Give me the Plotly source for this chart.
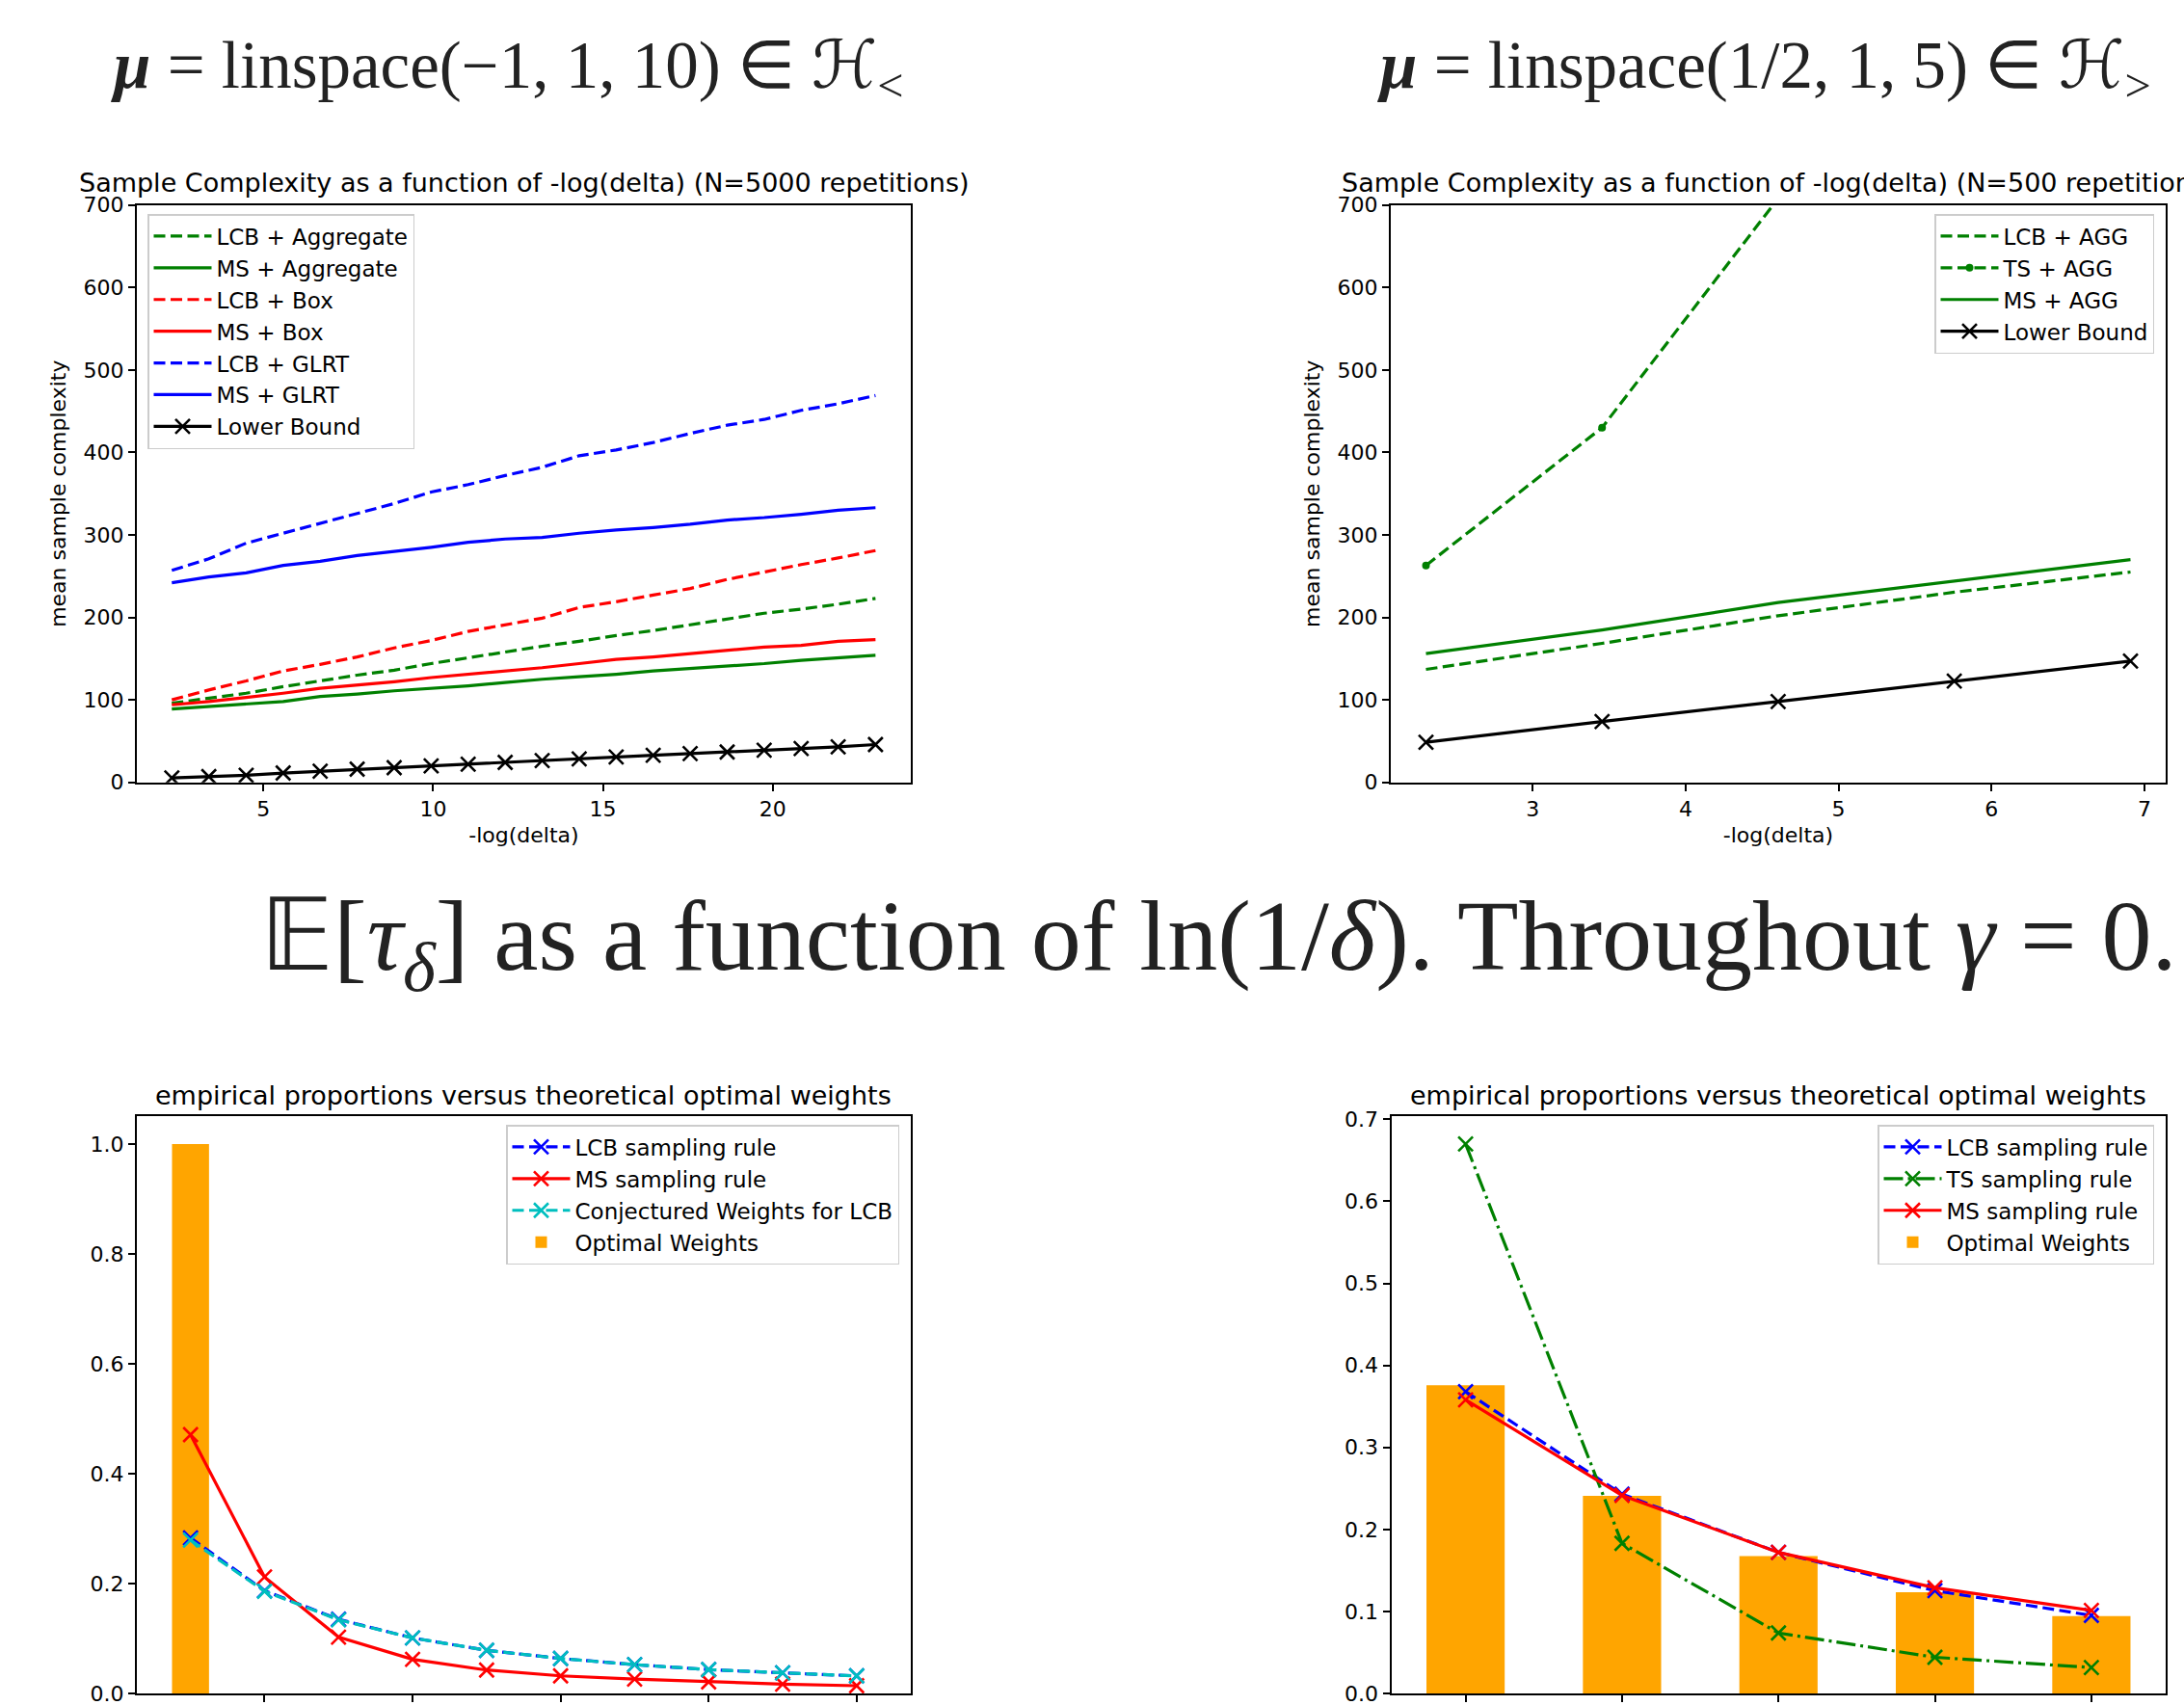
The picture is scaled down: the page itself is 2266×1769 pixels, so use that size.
import plotly.graph_objects as go

W, H = 2266, 1769

# ---------------- data ----------------
# top-left: mu = linspace(-1,1,10)
tl_x = [2.30, 3.39, 4.49, 5.58, 6.67, 7.76, 8.85, 9.94, 11.03, 12.12,
        13.21, 14.30, 15.39, 16.48, 17.57, 18.66, 19.75, 20.84, 21.93, 23.03]
tl_lcb_agg = [96, 102, 108, 116, 123, 130, 136, 144, 151, 158,
              165, 171, 178, 184, 191, 198, 205, 210, 216, 223]
tl_ms_agg = [89, 92, 95, 98, 104, 107, 111, 114, 117, 121,
             125, 128, 131, 135, 138, 141, 144, 148, 151, 154]
tl_lcb_box = [100, 112, 123, 135, 143, 152, 163, 172, 183, 191,
              199, 212, 219, 227, 235, 246, 255, 264, 272, 281]
tl_ms_box = [94, 98, 103, 108, 114, 118, 122, 127, 131, 135,
             139, 144, 149, 152, 156, 160, 164, 166, 171, 173]
tl_lcb_glrt = [257, 271, 290, 302, 314, 326, 338, 352, 361, 372,
               382, 396, 403, 412, 423, 433, 440, 451, 459, 469]
tl_ms_glrt = [242, 249, 254, 263, 268, 275, 280, 285, 291, 295,
              297, 302, 306, 309, 313, 318, 321, 325, 330, 333]
tl_lower = [5.4, 7.0, 8.6, 11.3, 13.5, 16.0, 17.8, 19.9, 22.0, 24.2,
            26.4, 28.5, 30.7, 32.8, 34.8, 36.8, 38.9, 41.0, 43.1, 45.8]

# top-right: mu = linspace(1/2,1,5)
tr_x = [2.303, 3.454, 4.605, 5.756, 6.908]
tr_lcb_agg = [137, 168.5, 202, 230.5, 255]
tr_ts_agg = [263, 430, 708, 1000, 1300]
tr_ms_agg = [156, 184.7, 218, 244, 270]
tr_lower = [48.5, 73.8, 98, 122.8, 147]

# bottom-left: proportions, 10 arms
bl_arms = [1, 2, 3, 4, 5, 6, 7, 8, 9, 10]
bl_lcb = [0.283, 0.187, 0.135, 0.101, 0.0785, 0.0636, 0.0524, 0.0434, 0.0374, 0.032]
bl_ms = [0.471, 0.212, 0.1025, 0.062, 0.0426, 0.032, 0.026, 0.021, 0.017, 0.014]
bl_conj = [0.279, 0.186, 0.134, 0.101, 0.0785, 0.0636, 0.0524, 0.0434, 0.0374, 0.032]
bl_opt = [1.0, 0, 0, 0, 0, 0, 0, 0, 0, 0]

# bottom-right: proportions, 5 arms
br_arms = [1, 2, 3, 4, 5]
br_lcb = [0.368, 0.243, 0.172, 0.1253, 0.0952]
br_ts = [0.67, 0.183, 0.0737, 0.0441, 0.0316]
br_ms = [0.358, 0.2415, 0.172, 0.1288, 0.1012]
br_opt = [0.3758, 0.241, 0.1674, 0.1233, 0.0942]

# ---------------- styling ----------------
GREEN, RED, BLUE, CYAN, BLACK, ORANGE = "#008000", "#FF0000", "#0000FF", "#00BFBF", "#000000", "#FFA500"
LW = 3.2
DASH = "12px,5.5px"
DASHDOT = "20px,5px,3px,5px"
FONT = "DejaVu Sans"


def px_x(p):
    return p / W


def px_y(p):
    return 1 - p / H


def xmark(c):
    return dict(symbol="x-thin", size=15, color=c, line=dict(width=2.6, color=c))


fig = go.Figure()


def line(x, y, name, color, dash, ax, leg, marker=None, mode="lines"):
    fig.add_trace(go.Scatter(
        x=x, y=y, name=name, mode=mode,
        line=dict(color=color, width=LW, dash=dash),
        marker=marker, xaxis=ax[0], yaxis=ax[1], legend=leg, cliponaxis=True))


TL = ("x", "y")
TR = ("x2", "y2")
BL = ("x3", "y3")
BR = ("x4", "y4")

line(tl_x, tl_lcb_agg, "LCB + Aggregate", GREEN, DASH, TL, "legend")
line(tl_x, tl_ms_agg, "MS + Aggregate", GREEN, "solid", TL, "legend")
line(tl_x, tl_lcb_box, "LCB + Box", RED, DASH, TL, "legend")
line(tl_x, tl_ms_box, "MS + Box", RED, "solid", TL, "legend")
line(tl_x, tl_lcb_glrt, "LCB + GLRT", BLUE, DASH, TL, "legend")
line(tl_x, tl_ms_glrt, "MS + GLRT", BLUE, "solid", TL, "legend")
line(tl_x, tl_lower, "Lower Bound", BLACK, "solid", TL, "legend", xmark(BLACK), "lines+markers")

line(tr_x, tr_lcb_agg, "LCB + AGG", GREEN, DASH, TR, "legend2")
line(tr_x, tr_ts_agg, "TS + AGG", GREEN, DASH, TR, "legend2",
     dict(symbol="circle", size=8, color=GREEN), "lines+markers")
line(tr_x, tr_ms_agg, "MS + AGG", GREEN, "solid", TR, "legend2")
line(tr_x, tr_lower, "Lower Bound", BLACK, "solid", TR, "legend2", xmark(BLACK), "lines+markers")

line(bl_arms, bl_lcb, "LCB sampling rule", BLUE, DASH, BL, "legend3", xmark(BLUE), "lines+markers")
line(bl_arms, bl_ms, "MS sampling rule", RED, "solid", BL, "legend3", xmark(RED), "lines+markers")
line(bl_arms, bl_conj, "Conjectured Weights for LCB", CYAN, DASH, BL, "legend3", xmark(CYAN), "lines+markers")
fig.add_trace(go.Bar(x=bl_arms, y=bl_opt, width=0.5, name="Optimal Weights",
                     marker=dict(color=ORANGE, line=dict(width=0)),
                     xaxis="x3", yaxis="y3", legend="legend3"))

line(br_arms, br_lcb, "LCB sampling rule", BLUE, DASH, BR, "legend4", xmark(BLUE), "lines+markers")
line(br_arms, br_ts, "TS sampling rule", GREEN, DASHDOT, BR, "legend4", xmark(GREEN), "lines+markers")
line(br_arms, br_ms, "MS sampling rule", RED, "solid", BR, "legend4", xmark(RED), "lines+markers")
fig.add_trace(go.Bar(x=br_arms, y=br_opt, width=0.5, name="Optimal Weights",
                     marker=dict(color=ORANGE, line=dict(width=0)),
                     xaxis="x4", yaxis="y4", legend="legend4"))

# ---------------- axes ----------------
TOP_Y = [px_y(811.7), px_y(212.7)]
BOT_Y = [px_y(1757), px_y(1158.4)]

common = dict(showline=True, mirror=True, linecolor="black", linewidth=2,
              ticks="outside", ticklen=7, tickwidth=2, tickcolor="black",
              showgrid=False, zeroline=False, automargin=False, ticklabeloverflow="allow",
              tickfont=dict(family=FONT, size=22, color="black"))

fig.update_layout(
    xaxis=dict(domain=[px_x(142), px_x(945)], anchor="y", range=[1.27, 24.07],
               tickvals=[5, 10, 15, 20],
               title=dict(text="-log(delta)", standoff=8, font=dict(family=FONT, size=22)), **common),
    yaxis=dict(domain=TOP_Y, anchor="x", range=[0, 700], tickvals=[0, 100, 200, 300, 400, 500, 600, 700],
               title=dict(text="mean sample complexity", standoff=12, font=dict(family=FONT, size=22)), **common),
    xaxis2=dict(domain=[px_x(1443), px_x(2247)], anchor="y2", range=[2.073, 7.138],
                tickvals=[3, 4, 5, 6, 7],
                title=dict(text="-log(delta)", standoff=8, font=dict(family=FONT, size=22)), **common),
    yaxis2=dict(domain=TOP_Y, anchor="x2", range=[0, 700], tickvals=[0, 100, 200, 300, 400, 500, 600, 700],
                title=dict(text="mean sample complexity", standoff=12, font=dict(family=FONT, size=22)), **common),
    xaxis3=dict(domain=[px_x(142), px_x(944.5)], anchor="y3", range=[0.275, 10.725],
                tickvals=[2, 4, 6, 8, 10], showticklabels=False, **common),
    yaxis3=dict(domain=BOT_Y, anchor="x3", range=[0, 1.05], tickvals=[0, 0.2, 0.4, 0.6, 0.8, 1.0],
                tickformat=".1f", **common),
    xaxis4=dict(domain=[px_x(1443.5), px_x(2247)], anchor="y4", range=[0.525, 5.475],
                tickvals=[1, 2, 3, 4, 5], showticklabels=False, **common),
    yaxis4=dict(domain=BOT_Y, anchor="x4", range=[0, 0.7035],
                tickvals=[0, 0.1, 0.2, 0.3, 0.4, 0.5, 0.6, 0.7], tickformat=".1f", **common),
)

leg_common = dict(bgcolor="rgba(255,255,255,0.85)", bordercolor="#cccccc", borderwidth=1.5,
                  font=dict(family=FONT, size=23, color="black"), yanchor="top", traceorder="normal",
                  itemwidth=60)
fig.update_layout(
    legend=dict(x=px_x(153), y=px_y(222), xanchor="left", **leg_common),
    legend2=dict(x=px_x(2235), y=px_y(222), xanchor="right", **leg_common),
    legend3=dict(x=px_x(933), y=px_y(1167), xanchor="right", **leg_common),
    legend4=dict(x=px_x(2235), y=px_y(1167), xanchor="right", **leg_common),
)

# ---------------- titles ----------------
annots = [
    dict(text="Sample Complexity as a function of -log(delta) (N=5000 repetitions)",
         x=px_x(543.5), y=px_y(189)),
    dict(text="Sample Complexity as a function of -log(delta) (N=500 repetitions)",
         x=px_x(1845), y=px_y(189)),
    dict(text="empirical proportions versus theoretical optimal weights",
         x=px_x(543), y=px_y(1136)),
    dict(text="empirical proportions versus theoretical optimal weights",
         x=px_x(1845), y=px_y(1136)),
]
for a in annots:
    fig.add_annotation(text=a["text"], x=a["x"], y=a["y"], xref="paper", yref="paper",
                       xanchor="center", yanchor="middle", showarrow=False,
                       font=dict(family=FONT, size=27, color="black"))

SERIF = "Liberation Serif"
fig.add_annotation(text="<b><i>μ</i></b> = linspace(−1, 1, 10) ∈ ℋ<sub>&lt;</sub>",
                   x=px_x(526), y=px_y(73), xref="paper", yref="paper", xanchor="center", yanchor="middle",
                   showarrow=False, font=dict(family=SERIF, size=69, color="#222222"))
fig.add_annotation(text="<b><i>μ</i></b> = linspace(1/2, 1, 5) ∈ ℋ<sub>&gt;</sub>",
                   x=px_x(1830), y=px_y(73), xref="paper", yref="paper", xanchor="center", yanchor="middle",
                   showarrow=False, font=dict(family=SERIF, size=69, color="#222222"))
fig.add_annotation(text="𝔼[<i>τ</i><sub><i>δ</i></sub>] as a function of ln(1/<i>δ</i>). Throughout <i>γ</i> = 0.",
                   x=px_x(268), y=px_y(978), xref="paper", yref="paper", xanchor="left", yanchor="middle",
                   showarrow=False, font=dict(family=SERIF, size=104, color="#222222"))

fig.update_layout(width=W, height=H, margin=dict(l=0, r=0, t=0, b=0),
                  paper_bgcolor="white", plot_bgcolor="white", showlegend=True,
                  font=dict(family=FONT, color="black"))

fig.write_html("out.html", config={"displayModeBar": False},
               post_script="document.body.style.margin='0';")
